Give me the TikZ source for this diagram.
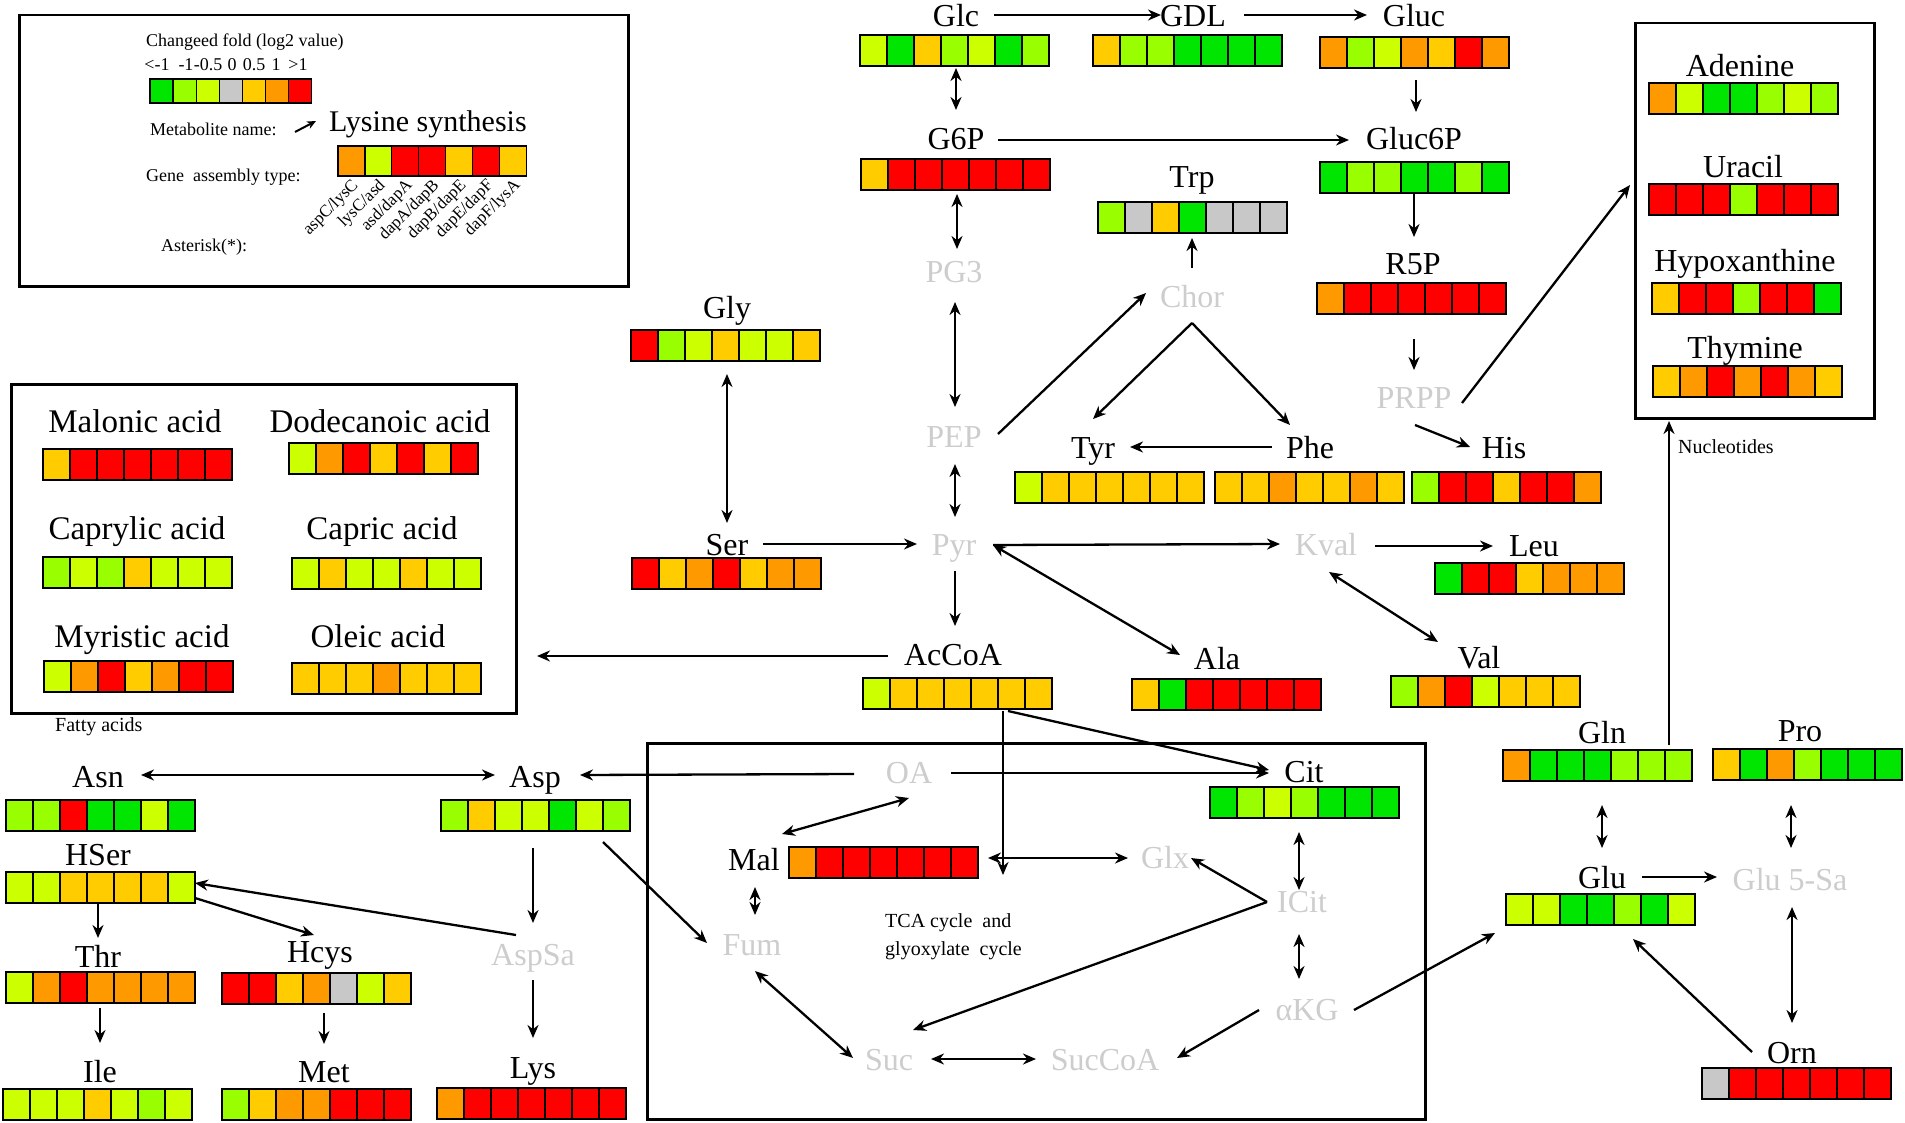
\documentclass[tikz,border=0pt]{standalone}
\usepackage{fontspec}
\setmainfont{Liberation Serif}
\usetikzlibrary{arrows.meta}
\definecolor{hm1}{RGB}{0,230,0}
\definecolor{hm2}{RGB}{153,255,0}
\definecolor{hm3}{RGB}{204,255,0}
\definecolor{hm4}{RGB}{200,200,200}
\definecolor{hm5}{RGB}{255,204,0}
\definecolor{hm6}{RGB}{255,153,0}
\definecolor{hm7}{RGB}{255,0,0}
\definecolor{faint}{RGB}{205,205,205}
\newcommand\hmcells[6]{%
  \foreach \cc [count=\ii from 0] in {#6} {
    \filldraw[fill=hm\cc, draw=black, line width=1.3pt] ({#2+\ii*#4},#3) rectangle ++(#4,#5);
  }
  \node[inner sep=0pt, minimum width={7*#4pt}, minimum height={#5pt}, anchor=north west] (#1) at (#2,#3) {};
}
\newcommand\hmbar[4]{\hmcells{#1}{#2}{#3}{27}{31}{#4}}
\newcommand\link[4]{\coordinate (#1s) at (#3); \coordinate (#1e) at (#4); \draw[#2] (#1s) -- (#1e);}
\tikzset{
 lab/.style={font=\fontsize{32}{38}\selectfont, inner sep=0pt, text height=21pt, text depth=7pt},
 glab/.style={lab, text=faint},
 flab/.style={font=\fontsize{33}{40}\selectfont, inner sep=0pt, text height=22pt, text depth=7pt},
 small/.style={font=\fontsize{20}{24}\selectfont, inner sep=0pt, anchor=west},
 legt/.style={font=\fontsize{18}{22}\selectfont, inner sep=0pt, anchor=west},
 gene/.style={font=\fontsize{17}{20}\selectfont, inner sep=0pt, rotate=45, anchor=east},
 frame/.style={draw=black, line width=2.5pt, inner sep=0pt, anchor=north west},
 conn/.style={line width=2.3pt, draw=black},
 arr/.style={conn, -{Stealth[length=13pt,width=11pt]}},
 darr/.style={conn, {Stealth[length=13pt,width=11pt]}-{Stealth[length=13pt,width=11pt]}},
}
\begin{document}
\begin{tikzpicture}[x=1pt,y=-1pt]
\useasboundingbox (0,0) rectangle (1905,1123);
\fill[white] (0,0) rectangle (1905,1123);
% frames
\node[frame, minimum width=609pt, minimum height=271pt] (legendbox) at (18,14) {};
\node[frame, minimum width=505pt, minimum height=329pt] (fattybox) at (10,383) {};
\node[frame, minimum width=239pt, minimum height=395pt] (nucbox) at (1634,22) {};
\node[frame, minimum width=778pt, minimum height=376pt] (tcabox) at (646,742) {};
% legend
\node[legt] (lgtitle) at (146,42) {Changeed fold (log2 value)};
\node[legt, anchor=center] (lv1) at (157,65) {<-1};
\node[legt, anchor=center] (lv2) at (186,65) {-1};
\node[legt, anchor=center] (lv3) at (208,65) {-0.5};
\node[legt, anchor=center] (lv4) at (232,65) {0};
\node[legt, anchor=center] (lv5) at (254,65) {0.5};
\node[legt, anchor=center] (lv6) at (276,65) {1};
\node[legt, anchor=center] (lv7) at (298,65) {>1};
\hmcells{legbar}{150}{79}{23.1}{24}{1,2,3,4,5,6,7}
\node[legt] (lgmet) at (150,129) {Metabolite name:};
\coordinate (lgas) at (295,132); \coordinate (lgae) at (316,121);
\draw[line width=2pt, -{Stealth[length=9pt,width=8pt]}] (lgas) -- (lgae);
\node[font=\fontsize{30}{36}\selectfont, inner sep=0pt, anchor=west] (lysyn) at (329,124) {Lysine synthesis};
\hmcells{genebar}{338}{146}{26.9}{30}{6,3,7,7,5,7,5}
\node[legt] (lggene) at (146,177) {Gene~ assembly type:};
\node[gene] (gn1) at (356,183) {aspC/lysC};
\node[gene] (gn2) at (383,183) {lysC/asd};
\node[gene] (gn3) at (410,183) {asd/dapA};
\node[gene] (gn4) at (437,183) {dapA/dapB};
\node[gene] (gn5) at (464,183) {dapB/dapE};
\node[gene] (gn6) at (491,183) {dapE/dapF};
\node[gene] (gn7) at (518,183) {dapF/lysA};
\node[legt] (lgast) at (161,247) {Asterisk(*):};
% bars
\hmbar{glcbar}{860}{35}{3,1,5,2,3,1,2}
\hmbar{gdlbar}{1093}{35}{5,2,2,1,1,1,1}
\hmbar{glucbar}{1320}{37}{6,2,3,6,5,7,6}
\hmbar{g6pbar}{861}{159}{5,7,7,7,7,7,7}
\hmbar{gluc6pbar}{1320}{162}{1,2,2,1,1,2,1}
\hmbar{trpbar}{1098}{202}{2,4,5,1,4,4,4}
\hmbar{r5pbar}{1317}{283}{6,7,7,7,7,7,7}
\hmbar{tyrbar}{1015}{472}{3,5,5,5,5,5,5}
\hmbar{phebar}{1215}{472}{5,5,6,5,5,6,5}
\hmbar{hisbar}{1412}{472}{2,7,7,5,7,7,6}
\hmbar{adebar}{1649}{83}{6,3,1,1,2,3,2}
\hmbar{urabar}{1649}{184}{7,7,7,2,7,7,7}
\hmbar{hypbar}{1652}{283}{5,7,7,2,7,7,1}
\hmbar{thybar}{1653}{366}{5,6,7,6,7,6,5}
\hmbar{glybar}{631}{330}{7,2,3,5,3,3,5}
\hmbar{serbar}{632}{558}{7,5,6,7,5,6,6}
\hmbar{malonbar}{43}{449}{5,7,7,7,7,7,7}
\hmbar{dodecbar}{289}{443}{3,6,7,5,7,5,7}
\hmbar{caprylbar}{43}{557}{2,3,2,5,3,3,3}
\hmbar{capricbar}{292}{558}{3,5,3,3,5,3,3}
\hmbar{myrbar}{44}{661}{3,6,7,5,6,7,7}
\hmbar{oleicbar}{292}{663}{5,5,5,6,5,5,5}
\hmbar{accoabar}{863}{678}{3,5,5,5,5,5,5}
\hmbar{leubar}{1435}{563}{1,7,7,5,6,6,6}
\hmbar{alabar}{1132}{679}{5,1,7,7,7,7,7}
\hmbar{valbar}{1391}{676}{2,6,7,3,5,5,5}
\hmbar{glnbar}{1503}{750}{6,1,1,1,2,2,2}
\hmbar{probar}{1713}{749}{5,1,6,2,1,1,1}
\hmbar{glubar}{1506}{894}{3,3,1,1,2,1,3}
\hmbar{ornbar}{1702}{1068}{4,7,7,7,7,7,7}
\hmbar{citbar}{1210}{787}{1,2,3,2,1,1,1}
\hmbar{malbar}{789}{847}{6,7,7,7,7,7,7}
\hmbar{asnbar}{6}{800}{2,2,7,1,1,3,1}
\hmbar{aspbar}{441}{800}{2,5,3,3,1,3,2}
\hmbar{hserbar}{6}{872}{3,3,5,5,5,5,3}
\hmbar{thrbar}{6}{972}{3,6,7,6,6,6,6}
\hmbar{ilebar}{3}{1089}{3,3,3,5,3,2,3}
\hmbar{hcysbar}{222}{973}{7,7,5,6,4,3,5}
\hmbar{metbar}{222}{1089}{2,5,6,6,7,7,7}
\hmbar{lysbar}{437}{1088}{6,7,7,7,7,7,7}
% labels
\node[lab] (glc) at (956,20) {Glc};
\node[lab] (gdl) at (1193,20) {GDL};
\node[lab] (gluc) at (1414,20) {Gluc};
\node[lab] (g6p) at (956,143) {G6P};
\node[lab] (gluc6p) at (1414,143) {Gluc6P};
\node[lab] (trp) at (1192,181) {Trp};
\node[glab] (pg3) at (954,276) {PG3};
\node[glab] (chor) at (1192,300) {Chor};
\node[lab] (r5p) at (1413,268) {R5P};
\node[glab] (prpp) at (1414,401) {PRPP};
\node[glab] (pep) at (954,440) {PEP};
\node[lab] (tyr) at (1093,451) {Tyr};
\node[lab] (phe) at (1310,451) {Phe};
\node[lab] (his) at (1504,451) {His};
\node[lab] (gly) at (727,311) {Gly};
\node[lab] (ser) at (727,548) {Ser};
\node[glab] (pyr) at (954,548) {Pyr};
\node[glab] (kval) at (1326,548) {Kval};
\node[lab] (leu) at (1534,549) {Leu};
\node[lab] (accoa) at (953,658) {AcCoA};
\node[lab] (ala) at (1217,662) {Ala};
\node[lab] (val) at (1479,661) {Val};
\node[lab] (ade) at (1740,70) {Adenine};
\node[lab] (ura) at (1743,171) {Uracil};
\node[lab] (hyp) at (1745,265) {Hypoxanthine};
\node[lab] (thy) at (1745,351) {Thymine};
\node[flab] (malon) at (135,425) {Malonic acid};
\node[flab] (dodec) at (380,425) {Dodecanoic acid};
\node[flab] (capryl) at (137,532) {Caprylic acid};
\node[flab] (capric) at (382,532) {Capric acid};
\node[flab] (myr) at (142,640) {Myristic acid};
\node[flab] (oleic) at (378,640) {Oleic acid};
\node[lab] (gln) at (1602,736) {Gln};
\node[lab] (pro) at (1800,734) {Pro};
\node[glab] (oa) at (909,776) {OA};
\node[lab] (cit) at (1304,775) {Cit};
\node[lab] (mal) at (754,863) {Mal};
\node[glab] (glx) at (1165,861) {Glx};
\node[glab] (fum) at (752,948) {Fum};
\node[glab] (icit) at (1302,905) {ICit};
\node[lab] (glu) at (1602,881) {Glu};
\node[glab] (glu5sa) at (1790,883) {Glu 5-Sa};
\node[glab] (suc) at (889,1063) {Suc};
\node[glab] (succoa) at (1105,1063) {SucCoA};
\node[glab] (akg) at (1307,1013) {αKG};
\node[lab] (orn) at (1792,1056) {Orn};
\node[lab] (asn) at (98,780) {Asn};
\node[lab] (asp) at (535,780) {Asp};
\node[lab] (hser) at (98,858) {HSer};
\node[lab] (thr) at (98,960) {Thr};
\node[lab] (hcys) at (320,955) {Hcys};
\node[glab] (aspsa) at (533,958) {AspSa};
\node[lab] (ile) at (100,1075) {Ile};
\node[lab] (met) at (324,1075) {Met};
\node[lab] (lys) at (533,1071) {Lys};
% small texts
\node[small] (fattytxt) at (55,727) {Fatty acids};
\node[small] (nuctxt) at (1678,447) {Nucleotides};
\node[small] (tca1) at (885,923) {TCA cycle~ and};
\node[small] (tca2) at (885,951) {glyoxylate~ cycle};
% connectors
\link{k1}{arr}{994,15}{1161,15}
\link{k2}{arr}{1244,15}{1367,15}
\link{k3}{darr}{956,68}{956,110}
\link{k4}{arr}{1416,80}{1416,112}
\link{k5}{arr}{998,140}{1349,140}
\link{k6}{darr}{957,194}{957,249}
\link{k7}{darr}{955,302}{955,407}
\link{k8}{darr}{955,464}{955,517}
\link{k9}{arr}{955,571}{955,626}
\link{k10}{darr}{727,374}{727,523}
\link{k11}{arr}{763,544}{917,544}
\link{k12}{arr}{998,434}{1146,293}
\link{k13}{arr}{1192,268}{1192,238}
\link{k14}{arr}{1192,323}{1093,419}
\link{k15}{arr}{1192,323}{1290,425}
\link{k16}{arr}{1272,447}{1130,447}
\link{k17}{arr}{1414,193}{1414,237}
\link{k18}{arr}{1414,339}{1414,370}
\link{k19}{arr}{1462,403}{1630,185}
\link{k20}{arr}{1415,425}{1470,447}
\link{k21}{arr}{993,545}{1280,544}
\link{k22}{darr}{993,545}{1180,655}
\link{k23}{arr}{1375,546}{1493,546}
\link{k24}{darr}{1329,572}{1438,642}
\link{k25}{arr}{888,656}{537,656}
\link{k26}{arr}{1669,745}{1669,421}
\link{k27}{darr}{1602,805}{1602,848}
\link{k28}{darr}{1791,805}{1791,848}
\link{k29}{arr}{1642,877}{1717,877}
\link{k30}{darr}{1792,907}{1792,1023}
\link{k31}{arr}{1752,1052}{1633,939}
\link{k32}{arr}{1354,1010}{1495,933}
\link{k33}{arr}{1008,711}{1269,770}
\link{k34}{arr}{951,773}{1269,773}
\link{k35}{arr}{1003,711}{1003,875}
\link{k36}{arr}{854,774}{580,775}
\link{k37}{darr}{141,775}{495,775}
\link{k38}{darr}{909,798}{782,834}
\link{k39}{darr}{988,858}{1128,858}
\link{k40}{darr}{755,887}{755,915}
\link{k41}{arr}{603,842}{707,943}
\link{k42}{darr}{755,971}{853,1058}
\link{k43}{darr}{931,1059}{1036,1059}
\link{k44}{arr}{1259,1010}{1177,1058}
\link{k45}{darr}{1299,934}{1299,979}
\link{k46}{darr}{1299,832}{1299,890}
\link{k47}{arr}{1267,902}{1191,858}
\link{k48}{arr}{1267,902}{913,1030}
\link{k49}{arr}{533,848}{533,923}
\link{k50}{arr}{533,980}{533,1038}
\link{k51}{arr}{516,935}{195,883}
\link{k52}{arr}{98,904}{98,938}
\link{k53}{arr}{195,898}{314,935}
\link{k54}{arr}{100,1008}{100,1043}
\link{k55}{arr}{324,1013}{324,1044}
\end{tikzpicture}
\end{document}
